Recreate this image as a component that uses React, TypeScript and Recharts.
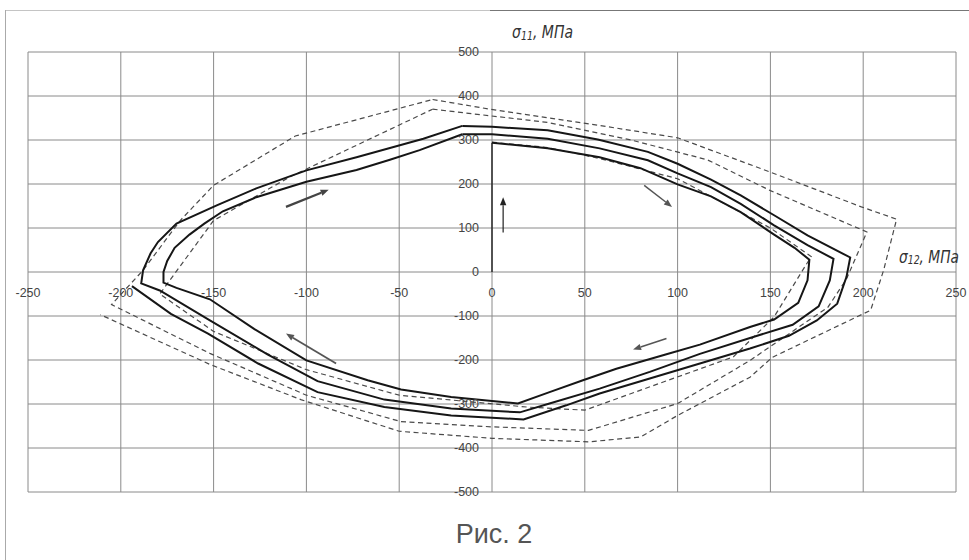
import React from 'react';
import { ComposedChart, Line, XAxis, YAxis, CartesianGrid, ReferenceLine } from 'recharts';

const W = 969;
const H = 560;
const M = { top: 52, right: 13, bottom: 67, left: 27 };
const PW = W - M.left - M.right - 1;
const PH = H - M.top - M.bottom - 1;

const xTicks = [-250, -200, -150, -100, -50, 0, 50, 100, 150, 200, 250];
const yTicks = [-500, -400, -300, -200, -100, 0, 100, 200, 300, 400, 500];

type P = { x: number; y: number };
const pts = (a: number[][]): P[] => a.map(([x, y]) => ({ x, y }));

// initial loading path
const solidLoad = pts([[0, 0], [0, 294]]);

// solid spiral, cycle by cycle
const solidCycle1 = pts([
  [0, 294], [30, 281], [58, 261], [80, 236], [100, 199], [118, 172], [134, 136], [152, 85], [163, 55], [171, 28],
  [170, -19], [165, -70], [152, -108], [139, -125], [112, -165], [94, -187], [67, -220], [49, -246], [31, -273], [14, -299],
  [-22, -284], [-49, -267], [-67, -246], [-100, -201], [-128, -130], [-152, -62], [-170, -36], [-177, -24],
  [-177, 0], [-175, 25], [-171, 55], [-163, 85], [-155, 110], [-145, 138], [-127, 170], [-100, 205], [-73, 232], [-55, 255], [-39, 277], [-16, 313],
]);
const solidCycle2 = pts([
  [-16, 313], [0, 313], [30, 303], [58, 281], [84, 254], [100, 224], [118, 193], [134, 155], [152, 106], [170, 61], [184, 30],
  [182, -19], [176, -78], [162, -120], [139, -150], [112, -186], [85, -227], [58, -265], [31, -299], [15, -319],
  [-22, -310], [-58, -290], [-94, -248], [-121, -187], [-152, -110], [-179, -42], [-189, -26],
  [-188, 4], [-184, 42], [-180, 68], [-170, 110], [-148, 152], [-127, 190], [-100, 231], [-73, 261], [-55, 282], [-37, 303], [-16, 332],
]);
const solidCycle3 = pts([
  [-16, 332], [0, 330], [30, 322], [57, 301], [84, 273], [100, 246], [118, 210], [134, 174], [152, 129], [170, 83], [193, 33],
  [191, -11], [186, -72], [175, -110], [160, -145], [139, -174], [112, -208], [85, -242], [58, -276], [40, -303], [17, -335],
  [-22, -326], [-58, -307], [-94, -273], [-126, -208], [-153, -140], [-173, -95], [-194, -32],
]);

// dashed spiral
const dashedCycle1 = pts([
  [0, 295], [30, 283], [58, 258], [100, 212], [150, 100], [172, 35], [169, 15], [152, -102], [130, -193], [50, -314],
  [19, -307], [-50, -280], [-100, -222], [-150, -135], [-179, -50], [-150, 117], [-109, 216], [-32, 370],
]);
const dashedCycle2 = pts([
  [-32, 370], [30, 340], [75, 300], [116, 255], [150, 185], [202, 91],
  [191, -16], [181, -80], [139, -201], [100, -299], [52, -360],
  [0, -352], [-49, -340], [-100, -280], [-152, -185], [-205, -74],
  [-188, 4], [-168, 117], [-150, 197], [-106, 309], [-32, 392],
]);
const dashedCycle3 = pts([
  [-32, 392], [-1, 370], [58, 333], [100, 305], [150, 227], [199, 148], [218, 120],
  [211, 4], [204, -87], [151, -194], [139, -239], [100, -326], [80, -375], [52, -386],
  [0, -378], [-50, -362], [-103, -290], [-152, -210], [-211, -97],
]);

// direction arrows [from, to]
const arrows: { from: P; to: P; w: number; c: string }[] = [
  { from: { x: -111, y: 148 }, to: { x: -88, y: 187 }, w: 2.2, c: '#444' },
  { from: { x: 82, y: 197 }, to: { x: 97, y: 148 }, w: 1.5, c: '#555' },
  { from: { x: 94, y: -151 }, to: { x: 76, y: -176 }, w: 1.5, c: '#555' },
  { from: { x: -84, y: -208 }, to: { x: -111, y: -140 }, w: 1.8, c: '#555' },
  { from: { x: 6, y: 90 }, to: { x: 6, y: 170 }, w: 1.2, c: '#222' },
];

const FONT = 'Liberation Sans, Arial, sans-serif';
const TITLE_FONT = 'Liberation Sans Narrow, DejaVu Sans Condensed, Liberation Sans, Arial';

const XTick = (props: any) => {
  const { x, payload } = props;
  return (
    <text x={x} y={M.top + PH / 2 + 24.5} textAnchor="middle" fontSize={12.5} fontFamily={FONT} fill="#444">
      {payload.value}
    </text>
  );
};

const YTick = (props: any) => {
  const { y, payload } = props;
  return (
    <text x={M.left + PW / 2 - 12} y={y + 4.3} textAnchor="end" fontSize={12.5} fontFamily={FONT} fill="#444">
      {payload.value}
    </text>
  );
};

const ArrowShape = (props: any) => {
  const { x1, y1, x2, y2, stroke, strokeWidth } = props;
  const ang = Math.atan2(y2 - y1, x2 - x1);
  const L = 8;
  const hw = 3.2;
  const bx = x2 - L * Math.cos(ang);
  const by = y2 - L * Math.sin(ang);
  const p1x = bx + hw * Math.sin(ang);
  const p1y = by - hw * Math.cos(ang);
  const p2x = bx - hw * Math.sin(ang);
  const p2y = by + hw * Math.cos(ang);
  return (
    <g>
      <line x1={x1} y1={y1} x2={bx} y2={by} stroke={stroke} strokeWidth={strokeWidth} />
      <polygon points={`${x2},${y2} ${p1x},${p1y} ${p2x},${p2y}`} fill={stroke} />
    </g>
  );
};

const solidStyle = { stroke: '#161616', strokeWidth: 2 };
const dashStyle = { stroke: '#4a4a4a', strokeWidth: 1.2, strokeDasharray: '5 3.5' };

export default function App() {
  return (
    <div style={{ position: 'absolute', left: 0, top: 0, width: W, height: H, background: '#fff', overflow: 'hidden' }}>
      <div style={{ position: 'absolute', left: 5, top: 10, width: 485, height: 0, borderTop: '1px solid #c4c4c4' }} />
      <div style={{ position: 'absolute', left: 490, top: 10, width: 479, height: 0, borderTop: '1px solid #777' }} />
      <div style={{ position: 'absolute', left: 5, top: 10, width: 0, height: 550, borderLeft: '1px solid #aaa' }} />
      <ComposedChart width={W} height={H} margin={M} style={{ position: 'absolute', left: 0, top: 0 }}>
        <CartesianGrid stroke="#8a8a8a" strokeWidth={1} />
        <XAxis
          type="number"
          dataKey="x"
          domain={[-250, 250]}
          ticks={xTicks}
          allowDataOverflow
          axisLine={false}
          tickLine={false}
          height={1}
          tick={<XTick />}
          interval={0}
        />
        <YAxis
          type="number"
          dataKey="y"
          domain={[-500, 500]}
          ticks={yTicks}
          allowDataOverflow
          axisLine={false}
          tickLine={false}
          width={1}
          tick={<YTick />}
          interval={0}
        />
        <Line data={dashedCycle1} dataKey="y" type="linear" dot={false} {...dashStyle} isAnimationActive={false} />
        <Line data={dashedCycle2} dataKey="y" type="linear" dot={false} {...dashStyle} isAnimationActive={false} />
        <Line data={dashedCycle3} dataKey="y" type="linear" dot={false} {...dashStyle} isAnimationActive={false} />
        <Line data={solidLoad} dataKey="y" type="linear" dot={false} stroke="#222" strokeWidth={1.4} isAnimationActive={false} />
        <Line data={solidCycle1} dataKey="y" type="linear" dot={false} {...solidStyle} isAnimationActive={false} />
        <Line data={solidCycle2} dataKey="y" type="linear" dot={false} {...solidStyle} isAnimationActive={false} />
        <Line data={solidCycle3} dataKey="y" type="linear" dot={false} {...solidStyle} isAnimationActive={false} />
        {arrows.map((a, i) => (
          <ReferenceLine
            key={i}
            segment={[a.from, a.to]}
            stroke={a.c}
            strokeWidth={a.w}
            ifOverflow="visible"
            shape={<ArrowShape />}
          />
        ))}
      </ComposedChart>
      <svg width={W} height={H} style={{ position: 'absolute', left: 0, top: 0, pointerEvents: 'none' }}>
        <text x={512} y={38} fontSize={17} fontStyle="italic" fontFamily={TITLE_FONT} fill="#333" textLength={61} lengthAdjust="spacingAndGlyphs">
          σ<tspan fontSize={11.5} dy={2}>11</tspan><tspan dy={-2}>, МПа</tspan>
        </text>
        <text x={899} y={263} fontSize={17} fontStyle="italic" fontFamily={TITLE_FONT} fill="#333" textLength={60} lengthAdjust="spacingAndGlyphs">
          σ<tspan fontSize={11.5} dy={1}>12</tspan><tspan dy={-1}>, МПа</tspan>
        </text>
        <text x={494} y={543} textAnchor="middle" fontSize={27} fontFamily={FONT} fill="#555">
          Рис. 2
        </text>
      </svg>
    </div>
  );
}
